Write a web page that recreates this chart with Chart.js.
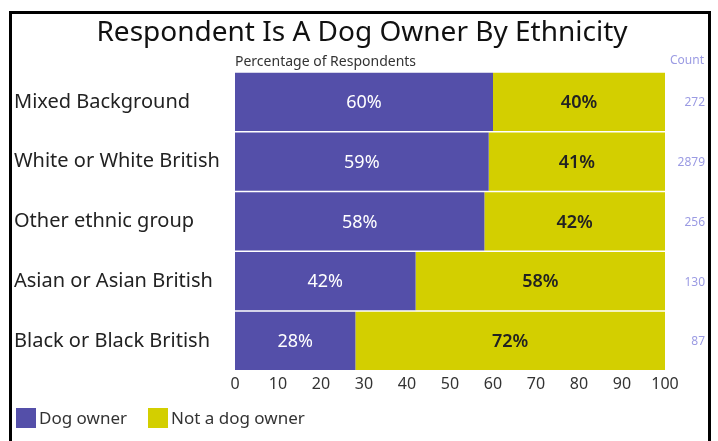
<!DOCTYPE html>
<html>
<head>
<meta charset="utf-8">
<script src="https://cdn.jsdelivr.net/npm/chart.js@4"></script>
<style>
  html, body { margin: 0; padding: 0; background: #fff; }
  canvas { display: block; }
</style>
</head>
<body>
<canvas id="dogChart" width="718" height="441"></canvas>
<script>
// Data
const categories = ['Mixed Background', 'White or White British', 'Other ethnic group', 'Asian or Asian British', 'Black or Black British'];
const dogOwner = [60, 59, 58, 42, 28];
const notDogOwner = [40, 41, 42, 58, 72];
const counts = [272, 2879, 256, 130, 87];
const xTicks = [0, 10, 20, 30, 40, 50, 60, 70, 80, 90, 100];
const seriesNames = ['Dog owner', 'Not a dog owner'];

const FONT = "'Noto Sans', 'Open Sans', sans-serif";
const PURPLE = '#544fa9';
const YELLOW = '#d3cf00';

// Frame, title, subtitle, count column, legend and in-bar labels
const extrasPlugin = {
    id: 'extras',
    beforeDraw(chart) {
        const ctx = chart.ctx;
        ctx.save();
        ctx.fillStyle = '#fff';
        ctx.fillRect(0, 0, chart.width, chart.height);
        ctx.restore();
    },
    afterDraw(chart) {
        const ctx = chart.ctx;
        const area = chart.chartArea;
        const yScale = chart.scales.y;
        ctx.save();

        // frame
        ctx.strokeStyle = '#000';
        ctx.lineWidth = 3;
        ctx.beginPath();
        ctx.moveTo(10.5, 441);
        ctx.lineTo(10.5, 12.5);
        ctx.lineTo(709.5, 12.5);
        ctx.lineTo(709.5, 441);
        ctx.stroke();

        // title
        ctx.fillStyle = '#111';
        ctx.font = `28px ${FONT}`;
        ctx.textAlign = 'center';
        ctx.textBaseline = 'middle';
        ctx.fillText('Respondent Is A Dog Owner By Ethnicity', 362, 33);

        // subtitle
        ctx.font = `14px ${FONT}`;
        ctx.fillStyle = '#333';
        ctx.textAlign = 'left';
        ctx.fillText('Percentage of Respondents', area.left, 62);

        // count header
        ctx.font = `12px ${FONT}`;
        ctx.fillStyle = '#9b9be3';
        ctx.fillText('Count', 670, 61);

        // counts
        ctx.textAlign = 'right';
        counts.forEach((c, i) => {
            ctx.fillText(String(c), 705, yScale.getPixelForValue(i) + 1);
        });

        // bar labels
        const meta0 = chart.getDatasetMeta(0);
        const meta1 = chart.getDatasetMeta(1);
        ctx.textAlign = 'center';
        meta0.data.forEach((bar, i) => {
            ctx.font = `18px ${FONT}`;
            ctx.fillStyle = '#fff';
            ctx.fillText(dogOwner[i] + '%', (bar.base + bar.x) / 2, bar.y + 1);
            const b2 = meta1.data[i];
            ctx.font = `600 18px ${FONT}`;
            ctx.fillStyle = '#222';
            ctx.fillText(notDogOwner[i] + '%', (b2.base + b2.x) / 2, b2.y + 1);
        });

        // legend
        const colors = [PURPLE, YELLOW];
        const legendX = [16, 148];
        ctx.font = `17px ${FONT}`;
        ctx.textAlign = 'left';
        seriesNames.forEach((name, i) => {
            ctx.fillStyle = colors[i];
            ctx.fillRect(legendX[i], 408, 20, 20);
            ctx.fillStyle = '#333';
            ctx.fillText(name, legendX[i] + 23, 419);
        });
        ctx.restore();
    }
};

new Chart(document.getElementById('dogChart'), {
    type: 'bar',
    data: {
        labels: categories,
        datasets: [
            { label: seriesNames[0], data: dogOwner, backgroundColor: PURPLE },
            { label: seriesNames[1], data: notDogOwner, backgroundColor: YELLOW }
        ]
    },
    options: {
        indexAxis: 'y',
        responsive: false,
        animation: false,
        layout: { padding: { top: 72, right: 53, left: 14, bottom: 51 } },
        datasets: { bar: { barPercentage: 1, categoryPercentage: 0.975 } },
        plugins: {
            title: { display: false },
            tooltip: { enabled: false },
            legend: { display: false }
        },
        scales: {
            x: {
                stacked: true, min: 0, max: 100,
                grid: { display: false }, border: { display: false },
                afterBuildTicks: (axis) => { axis.ticks = xTicks.map(v => ({ value: v })); },
                ticks: { color: '#333', font: { family: FONT, size: 16 }, padding: -4, maxRotation: 0 }
            },
            y: {
                stacked: true,
                grid: { display: false }, border: { display: false },
                afterFit: (axis) => { axis.width = 221; },
                ticks: { crossAlign: 'far', color: '#222', font: { family: FONT, size: 20 } }
            }
        }
    },
    plugins: [extrasPlugin]
});
</script>
</body>
</html>
